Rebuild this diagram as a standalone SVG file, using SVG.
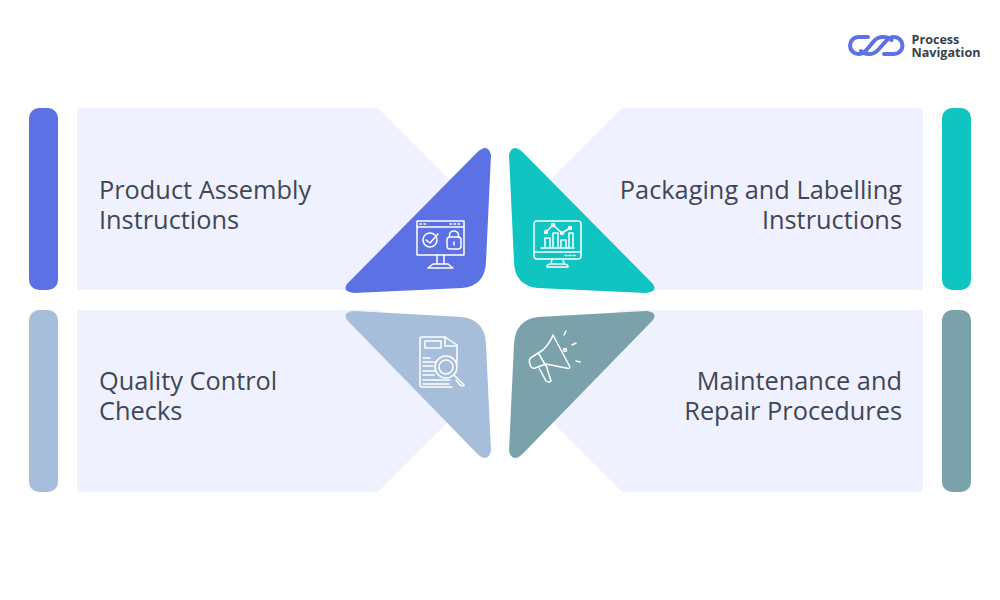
<svg xmlns="http://www.w3.org/2000/svg" width="1000" height="600" viewBox="0 0 1000 600">
<style>
.card{fill:#eff2fe}
.t{font-family:"Open Sans","Liberation Sans",sans-serif;font-size:25.35px;fill:#414656}
.e{text-anchor:end}
.i{fill:none;stroke:#fff;stroke-width:1.5;stroke-linecap:round;stroke-linejoin:round}
.l{font-family:"Open Sans","Liberation Sans",sans-serif;font-size:12.6px;font-weight:700;fill:#3a3f4f}
</style>
<rect width="1000" height="600" fill="#fff"/>
<g id="logo">
<g fill="none" stroke="#5c72e4" stroke-width="4" stroke-linecap="round">
<path d="M868 37H858.500A8.500 8.500 0 0 0 858.500 54Q863 54 866 50.500L874 41Q877.500 37 883 37Q889 37 891.500 40"/>
<path d="M884 54H894A8.500 8.500 0 0 0 894 37Q889.500 37 886.500 40.500L878 50Q874.500 54 869 54Q863.500 54 861 51"/>
</g>
<text class="l" x="911.500" y="44">Process</text>
<text class="l" x="911.500" y="57">Navigation</text>
</g>
<g id="node-assembly">
<rect x="29" y="108" width="29" height="182" rx="10" fill="#5c72e4"/>
<path class="card" d="M81 108H378L470 200L380 290H81a4 4 0 0 1-4-4V112a4 4 0 0 1 4-4Z"/>
<path d="M478 151.500Q488 143 491 155L486 262Q485 286 462 288L354 293Q342 292 347 284Z" fill="#5c72e4"/>
<g class="i">
<rect x="417" y="221" width="47" height="34"/><path d="M417 227H464M437 255V264M444 255V264M433 264H448L453 268H428Z"/>
<circle cx="430" cy="240" r="7"/><path d="M426 240L430 243L438 234"/>
<rect x="447" y="237" width="14" height="12" rx="3"/><path d="M449.500 237V235a4.500 4 0 0 1 9 0V237M454 242V245"/>
<path d="M420 224H426M450 224H460" stroke-dasharray="1.500 2.500"/>
</g>
<text class="t" x="99" y="199">Product Assembly</text>
<text class="t" x="99" y="229">Instructions</text>
</g>
<g id="node-packaging">
<rect x="942" y="108" width="29" height="182" rx="10" fill="#0fc4c1"/>
<path class="card" d="M919 108H622L530 200L620 290H919a4 4 0 0 0 4-4V112a4 4 0 0 0-4-4Z"/>
<path d="M522 151.500Q512 143 509 155L514 262Q515 286 538 288L646 293Q658 292 653 284Z" fill="#0fc4c1"/>
<g class="i">
<rect x="534" y="221" width="47" height="38" rx="3"/><path d="M534 252H581M552 259L551 264H564L563 259M547 267Q547 264 551 264H564Q568 264 568 267Z"/>
<path d="M565 255.500H576" stroke-dasharray="2 2"/>
<path d="M541 248H574M545 248V238H550V248M553 248V233H558V248M561 248V240H566V248M569 248V233H573V248"/>
<path d="M546 232L553 225L562 233L570 228"/><circle cx="546" cy="232" r="1.500"/><circle cx="553" cy="225" r="1.500"/><circle cx="562" cy="233" r="1.500"/><circle cx="570" cy="228" r="1.500"/>
</g>
<text class="t e" x="902" y="199">Packaging and Labelling</text>
<text class="t e" x="902" y="229">Instructions</text>
</g>
<g id="node-quality">
<rect x="29" y="310" width="29" height="182" rx="10" fill="#a7bedb"/>
<path class="card" d="M81 310H380L470 400L378 492H81a4 4 0 0 1-4-4V314a4 4 0 0 1 4-4Z"/>
<path d="M478 454.500Q488 463 491 451L486 344Q485 320 462 317L354 311Q342 312 347 320Z" fill="#a7bedb"/>
<g class="i">
<path d="M457 362V345L445 337H422Q420 337 420 339V385Q420 387 422 387H452"/><path d="M445 337V346H457"/>
<rect x="425" y="341" width="16" height="7"/>
<path d="M423 358H430M423 362H436M423 366H433M423 371H436M423 375H434M423 380H450M423 384H449"/>
<circle cx="446" cy="367" r="11"/><circle cx="446" cy="367" r="7"/>
<path d="M454 375L458 379L463 384Q465 386 463 386Q461 386 459 384L456 380"/>
</g>
<text class="t" x="99" y="390">Quality Control</text>
<text class="t" x="99" y="420">Checks</text>
</g>
<g id="node-maintenance">
<rect x="942" y="310" width="29" height="182" rx="10" fill="#7ba2aa"/>
<path class="card" d="M919 310H620L530 400L622 492H919a4 4 0 0 0 4-4V314a4 4 0 0 0-4-4Z"/>
<path d="M522 454.500Q512 463 509 451L514 344Q515 320 538 317L646 311Q658 312 653 320Z" fill="#7ba2aa"/>
<g class="i">
<path d="M553 335L570 367Q570 369 566 368L546 364L535 368Q531 369 530 364Q528 359 532 357L543 350Q550 343 553 335Z"/>
<path d="M539 354L546 366M539 368L546 381Q549 383 551 381L546 365"/>
<circle cx="565" cy="350" r="1.500"/>
<path d="M564 335L566 331M572 345L576 343M576 361L580 362"/>
</g>
<text class="t e" x="902" y="390">Maintenance and</text>
<text class="t e" x="902" y="420">Repair Procedures</text>
</g>
<g id="connectors"></g>
</svg>
